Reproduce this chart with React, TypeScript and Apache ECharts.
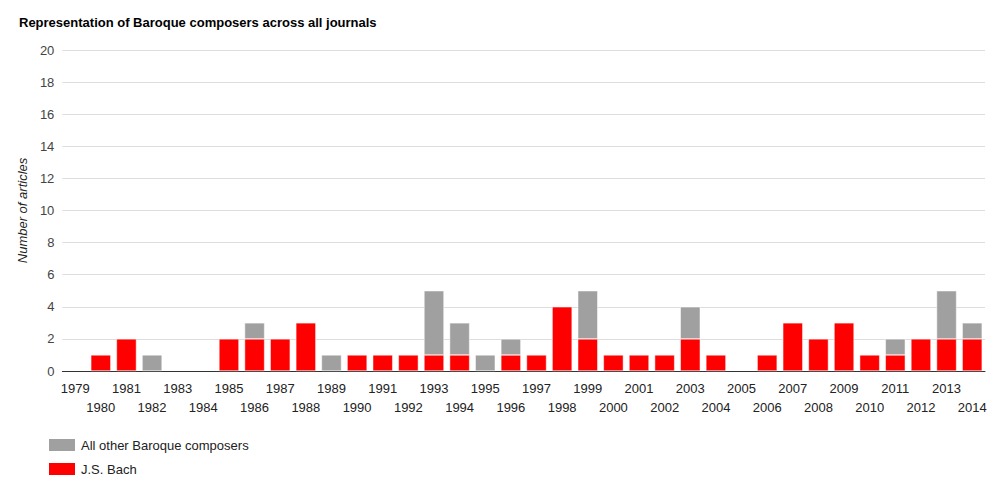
import { useEffect, useRef } from 'react';
import * as echarts from 'echarts';

const years = Array.from({ length: 36 }, (_, i) => String(1979 + i));
const bach = [0, 1, 2, 0, 0, 0, 2, 2, 2, 3, 0, 1, 1, 1, 1, 1, 0, 1, 1, 4, 2, 1, 1, 1, 2, 1, 0, 1, 3, 2, 3, 1, 1, 2, 2, 2];
const others = [0, 0, 0, 1, 0, 0, 0, 1, 0, 0, 1, 0, 0, 0, 4, 2, 1, 1, 0, 0, 3, 0, 0, 0, 2, 0, 0, 0, 0, 0, 0, 0, 1, 0, 3, 1];

const nz = (v: number) => (v === 0 ? null : v);

export default function App() {
  const ref = useRef<HTMLDivElement>(null);

  useEffect(() => {
    if (!ref.current) return;
    const chart = echarts.init(ref.current, null, { renderer: 'svg' });
    const font = 'Arial, "Liberation Sans", sans-serif';
    const legendBase = {
      left: 34,
      itemWidth: 28,
      itemHeight: 14,
      icon: 'rect',
      textStyle: { fontSize: 13, color: '#222' },
    };
    chart.setOption({
      animation: false,
      textStyle: { fontFamily: font },
      title: {
        text: 'Representation of Baroque composers across all journals',
        left: 6,
        top: 3,
        textStyle: { fontSize: 13, fontWeight: 'bold', color: '#000', fontFamily: font },
      },
      legend: [
        { ...legendBase, top: 424, data: ['All other Baroque composers'] },
        { ...legendBase, top: 448, data: ['J.S. Bach'] },
      ],
      grid: { left: 42, right: 7, top: 42, bottom: 111, containLabel: false },
      xAxis: {
        type: 'category',
        data: years,
        axisTick: { show: false },
        axisLine: { lineStyle: { color: '#333' } },
        axisLabel: {
          interval: 0,
          color: '#222',
          fontSize: 13,
          formatter: (v: string, i: number) => (i % 2 === 1 ? '\n' + v : v),
          lineHeight: 19,
        },
      },
      yAxis: {
        type: 'value',
        min: 0,
        max: 20,
        interval: 2,
        name: 'Number of articles',
        nameLocation: 'middle',
        nameGap: 28,
        nameTextStyle: { fontStyle: 'italic', fontSize: 13, color: '#222' },
        axisLabel: { color: '#444', fontSize: 13 },
        splitLine: { lineStyle: { color: '#ddd' } },
      },
      series: [
        {
          name: 'J.S. Bach',
          type: 'bar',
          stack: 'a',
          data: bach.map(nz),
          barCategoryGap: '22%',
          itemStyle: { color: '#ff0000', borderColor: '#fff', borderWidth: 0.5 },
        },
        {
          name: 'All other Baroque composers',
          type: 'bar',
          stack: 'a',
          data: others.map(nz),
          itemStyle: { color: '#a0a0a0', borderColor: '#fff', borderWidth: 0.5 },
        },
      ],
    });
    return () => chart.dispose();
  }, []);

  return <div ref={ref} style={{ width: 984, height: 474 }} />;
}
